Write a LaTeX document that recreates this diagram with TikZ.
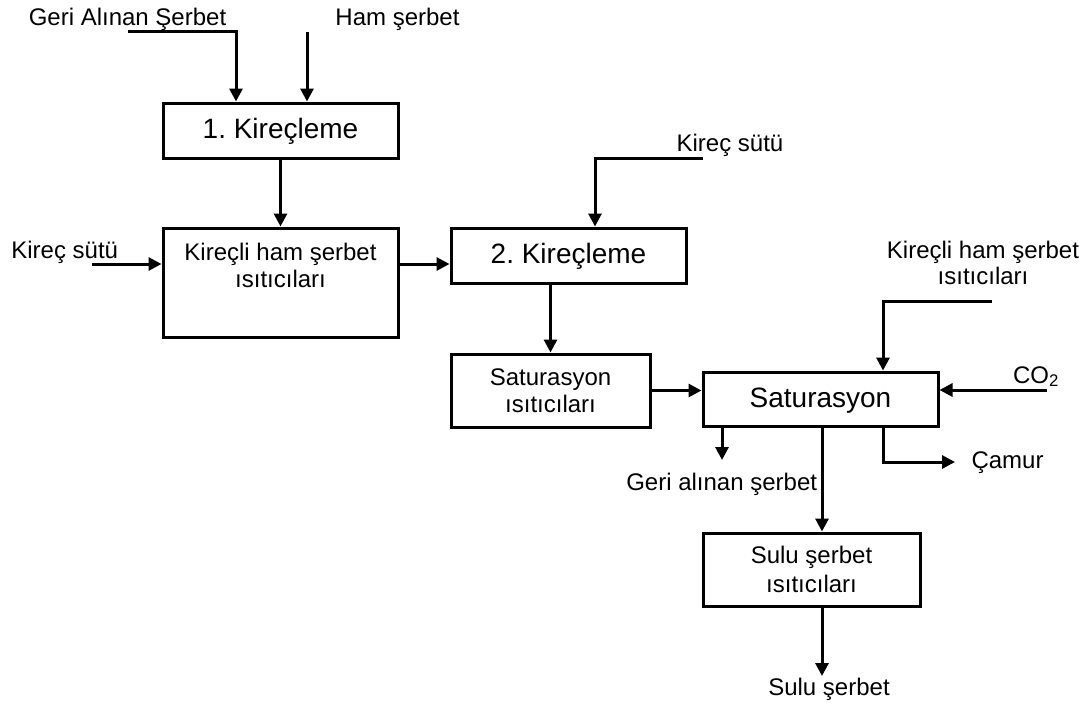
\documentclass[tikz,border=0pt]{standalone}
\usepackage{fontspec}
\setmainfont{Liberation Sans}
\usetikzlibrary{arrows.meta}
\frenchspacing
\begin{document}
\begin{tikzpicture}[x=1pt,y=-1pt,
  lw/.style={line width=3pt},
  box/.style={draw,lw,rectangle,inner sep=0pt},
  arr/.style={lw,-{Triangle[length=13pt,width=13pt]}},
  lab/.style={font=\fontsize{24}{27.5}\selectfont,inner sep=0pt,align=center},
  big/.style={font=\fontsize{28}{32}\selectfont,inner sep=0pt,align=center}]
\useasboundingbox[fill=white] (0,0) rectangle (1091,709);

% boxes
\node[box,minimum width=235pt,minimum height=55pt] (b1) at (280.5,130.5) {};
\node[box,minimum width=235pt,minimum height=109pt] (kb) at (280.5,282.5) {};
\node[box,minimum width=235pt,minimum height=55pt] (b2) at (568.5,255.5) {};
\node[box,minimum width=199pt,minimum height=73pt] (si) at (550.5,390.5) {};
\node[box,minimum width=235pt,minimum height=54pt] (sat) at (820.5,399) {};
\node[box,minimum width=217pt,minimum height=73pt] (sul) at (811.5,569.5) {};

% box texts
\node[big,anchor=base] (t1) at (280.5,138) {1. Kireçleme};
\node[lab,anchor=base] (tk1) at (280.5,260) {Kireçli ham şerbet};
\node[lab,anchor=base] (tk2) at (280.5,287) {ısıtıcıları};
\node[big,anchor=base] (t2) at (568.5,263) {2. Kireçleme};
\node[lab,anchor=base] (ts1) at (550.5,385) {Saturasyon};
\node[lab,anchor=base] (ts2) at (550.5,412) {ısıtıcıları};
\node[big,anchor=base] (tsat) at (820.5,407) {Saturasyon};
\node[lab,anchor=base] (tu1) at (811.5,563) {Sulu şerbet};
\node[lab,anchor=base] (tu2) at (811.5,592) {ısıtıcıları};

% outside labels
\node[lab,anchor=base] (gas) at (127.5,26) {Geri Alınan Şerbet};
\node[lab,anchor=base] (ham) at (397.5,26) {Ham şerbet};
\node[lab,anchor=base] (ks1) at (64.7,258) {Kireç sütü};
\node[lab,anchor=base] (ks2) at (730,151) {Kireç sütü};
\node[lab,anchor=base] (kr1) at (983,258) {Kireçli ham şerbet};
\node[lab,anchor=base] (kr2) at (983,284) {ısıtıcıları};
\node[lab,anchor=base] (co) at (1036,383) {CO\textsubscript{2}};
\node[lab,anchor=base] (cam) at (1007.5,468) {Çamur};
\node[lab,anchor=base] (ga) at (721.7,490) {Geri alınan şerbet};
\node[lab,anchor=base] (ss) at (829,695) {Sulu şerbet};

% free ends
\coordinate (c1) at (128,32);
\coordinate (c2) at (307,32);
\coordinate (c3) at (92,264);
\coordinate (c4) at (703,158);
\coordinate (c5) at (992,301);
\coordinate (c6) at (1047,390);
\coordinate (c7) at (722,460);
\coordinate (c9) at (955,462);
\coordinate (c10) at (822,676);

% connectors
\draw[arr] (c1) -| ([xshift=-44.5pt]b1.north);
\draw[arr] (c2) -- (c2 |- b1.north);
\draw[arr] (b1.south) -- (kb.north);
\draw[arr] (c3) -- (c3 -| kb.west);
\draw[arr] (c3 -| kb.east) -- (c3 -| b2.west);
\draw[arr] (c4) -| ([xshift=26.5pt]b2.north);
\draw[arr] (b2.south -| si.north) -- (si.north);
\draw[arr] (si.east) -- (si.east -| sat.west);
\draw[arr] (c5) -| ([xshift=62.5pt]sat.north);
\draw[arr] (c6) -- (c6 -| sat.east);
\draw[arr] (c7 |- sat.south) -- (c7);
\draw[arr] (c10 |- sat.south) -- (c10 |- sul.north);
\draw[arr] ([xshift=62.5pt]sat.south) |- (c9);
\draw[arr] (c10 |- sul.south) -- (c10);
\end{tikzpicture}
\end{document}
